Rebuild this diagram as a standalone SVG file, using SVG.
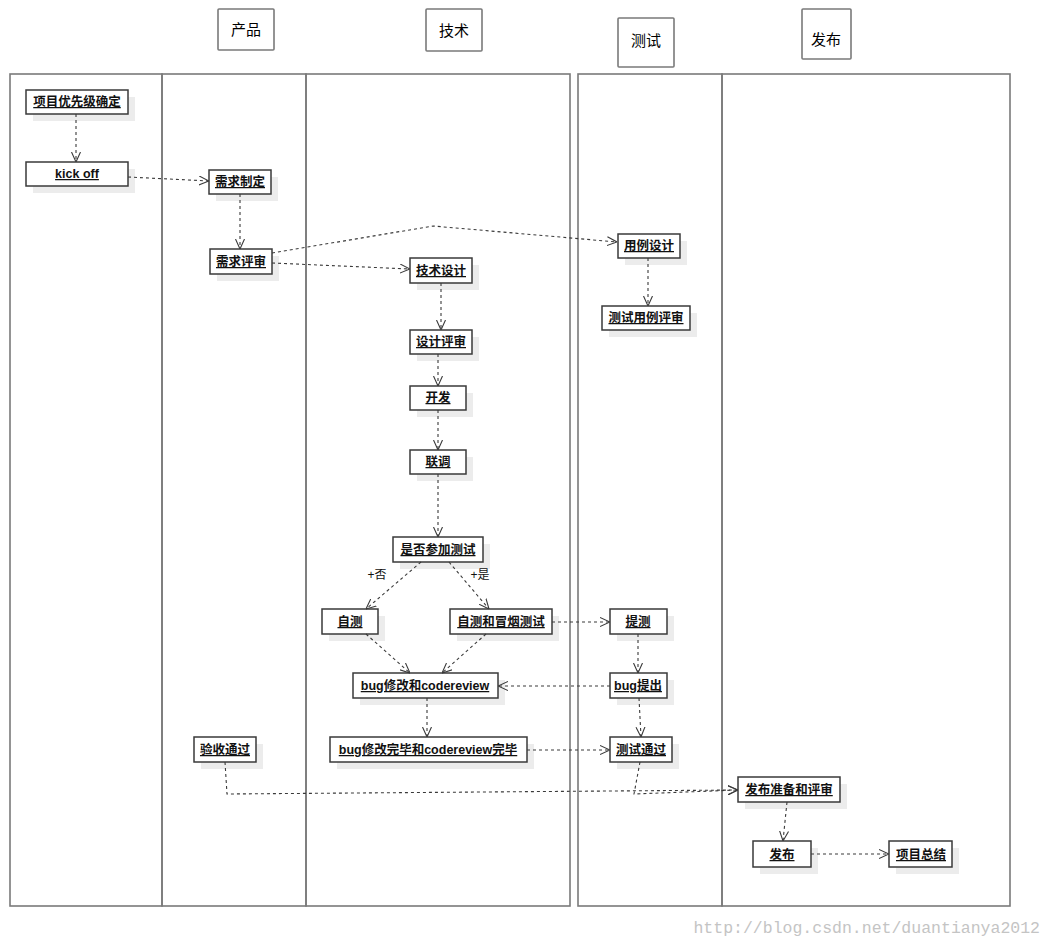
<svg xmlns="http://www.w3.org/2000/svg" width="1050" height="946" viewBox="0 0 1050 946">
<style>
.lane{fill:none;stroke:#7a7a7a;stroke-width:1.6}
.hdr{fill:#fff;stroke:#7a7a7a;stroke-width:1.6}
.ht{font-family:"Noto Sans CJK SC",sans-serif;font-size:15px;fill:#000;text-anchor:middle}
.sh{fill:#ececec}
.bx{fill:#fff;stroke:#3a3a3a;stroke-width:1.5}
.nt{font-family:"Liberation Sans","Noto Sans CJK SC",sans-serif;font-size:12.5px;font-weight:bold;fill:#111;text-anchor:middle;text-decoration:underline}
.c{fill:none;stroke:#3a3a3a;stroke-width:1.1;stroke-dasharray:3,3;marker-end:url(#ah)}
.lb{font-family:"Liberation Sans","Noto Sans CJK SC",sans-serif;font-size:12px;fill:#111;text-anchor:middle}
</style>
<defs>
<marker id="ah" viewBox="0 0 10 10" refX="10" refY="5" markerWidth="10" markerHeight="10" markerUnits="userSpaceOnUse" orient="auto">
<path d="M0,0.5 L10,5 L0,9.5" fill="none" stroke="#3a3a3a" stroke-width="1.1"/>
</marker>
</defs>
<rect width="1050" height="946" fill="#fff"/>
<g id="lanes">
<rect class="lane" x="10" y="74" width="152" height="832"/>
<rect class="lane" x="162" y="74" width="144" height="832"/>
<rect class="lane" x="306" y="74" width="264" height="832"/>
<rect class="lane" x="578" y="74" width="144" height="832"/>
<rect class="lane" x="722" y="74" width="288" height="832"/>
</g>
<g id="headers">
<g id="h-product"><rect class="hdr" x="218" y="9" width="56" height="41" rx="1"/><text class="ht" x="246" y="35">产品</text></g>
<g id="h-tech"><rect class="hdr" x="426" y="9" width="56" height="42" rx="1"/><text class="ht" x="454" y="36">技术</text></g>
<g id="h-test"><rect class="hdr" x="618" y="18" width="56" height="49" rx="1"/><text class="ht" x="646" y="46">测试</text></g>
<g id="h-release"><rect class="hdr" x="802" y="9" width="49" height="50" rx="1"/><text class="ht" x="826" y="45">发布</text></g>
</g>
<g id="n1"><rect class="sh" x="33" y="97" width="102" height="24"/><rect class="bx" x="26" y="90" width="102" height="24"/><text class="nt" x="77" y="106">项目优先级确定</text></g>
<g id="n2"><rect class="sh" x="33" y="169" width="102" height="24"/><rect class="bx" x="26" y="162" width="102" height="24"/><text class="nt" x="77" y="178">kick off</text></g>
<g id="n3"><rect class="sh" x="216" y="177" width="62" height="24"/><rect class="bx" x="209" y="170" width="62" height="24"/><text class="nt" x="240" y="186">需求制定</text></g>
<g id="n4"><rect class="sh" x="217" y="256" width="62" height="25"/><rect class="bx" x="210" y="249" width="62" height="25"/><text class="nt" x="241" y="266">需求评审</text></g>
<g id="n5"><rect class="sh" x="417" y="265" width="62" height="25"/><rect class="bx" x="410" y="258" width="62" height="25"/><text class="nt" x="441" y="275">技术设计</text></g>
<g id="n6"><rect class="sh" x="625" y="241" width="62" height="24"/><rect class="bx" x="618" y="234" width="62" height="24"/><text class="nt" x="649" y="250">用例设计</text></g>
<g id="n7"><rect class="sh" x="609" y="313" width="88" height="24"/><rect class="bx" x="602" y="306" width="88" height="24"/><text class="nt" x="646" y="322">测试用例评审</text></g>
<g id="n8"><rect class="sh" x="417" y="337" width="62" height="24"/><rect class="bx" x="410" y="330" width="62" height="24"/><text class="nt" x="441" y="346">设计评审</text></g>
<g id="n9"><rect class="sh" x="417" y="393" width="56" height="24"/><rect class="bx" x="410" y="386" width="56" height="24"/><text class="nt" x="438" y="402">开发</text></g>
<g id="n10"><rect class="sh" x="417" y="457" width="56" height="24"/><rect class="bx" x="410" y="450" width="56" height="24"/><text class="nt" x="438" y="466">联调</text></g>
<g id="n11"><rect class="sh" x="400" y="544" width="90" height="25"/><rect class="bx" x="393" y="537" width="90" height="25"/><text class="nt" x="438" y="554">是否参加测试</text></g>
<g id="n12"><rect class="sh" x="329" y="616" width="56" height="25"/><rect class="bx" x="322" y="609" width="56" height="25"/><text class="nt" x="350" y="626">自测</text></g>
<g id="n13"><rect class="sh" x="457" y="616" width="102" height="25"/><rect class="bx" x="450" y="609" width="102" height="25"/><text class="nt" x="501" y="626">自测和冒烟测试</text></g>
<g id="n14"><rect class="sh" x="360" y="680" width="145" height="25"/><rect class="bx" x="353" y="673" width="145" height="25"/><text class="nt" x="425" y="690">bug修改和codereview</text></g>
<g id="n15"><rect class="sh" x="617" y="616" width="57" height="25"/><rect class="bx" x="610" y="609" width="57" height="25"/><text class="nt" x="638" y="626">提测</text></g>
<g id="n16"><rect class="sh" x="617" y="680" width="57" height="25"/><rect class="bx" x="610" y="673" width="57" height="25"/><text class="nt" x="638" y="690">bug提出</text></g>
<g id="n17"><rect class="sh" x="617" y="744" width="62" height="25"/><rect class="bx" x="610" y="737" width="62" height="25"/><text class="nt" x="641" y="754">测试通过</text></g>
<g id="n18"><rect class="sh" x="201" y="744" width="62" height="25"/><rect class="bx" x="194" y="737" width="62" height="25"/><text class="nt" x="225" y="754">验收通过</text></g>
<g id="n19"><rect class="sh" x="337" y="744" width="197" height="25"/><rect class="bx" x="330" y="737" width="197" height="25"/><text class="nt" x="428" y="754">bug修改完毕和codereview完毕</text></g>
<g id="n20"><rect class="sh" x="745" y="784" width="102" height="25"/><rect class="bx" x="738" y="777" width="102" height="25"/><text class="nt" x="789" y="794">发布准备和评审</text></g>
<g id="n21"><rect class="sh" x="760" y="848" width="58" height="26"/><rect class="bx" x="753" y="841" width="58" height="26"/><text class="nt" x="782" y="859">发布</text></g>
<g id="n22"><rect class="sh" x="896" y="848" width="63" height="26"/><rect class="bx" x="889" y="841" width="63" height="26"/><text class="nt" x="921" y="859">项目总结</text></g>
<g id="connectors">
<path class="c" d="M76,114 L76,162"/>
<path class="c" d="M128,177 L209,181"/>
<path class="c" d="M240,194 L240,249"/>
<path class="c" d="M272,253 L433,226 L617,242"/>
<path class="c" d="M272,263 L410,269"/>
<path class="c" d="M648,258 L648,306"/>
<path class="c" d="M441,283 L441,330"/>
<path class="c" d="M438,354 L438,386"/>
<path class="c" d="M438,410 L438,450"/>
<path class="c" d="M438,474 L438,537"/>
<path class="c" d="M421,562 L366,609"/>
<path class="c" d="M449,562 L489,609"/>
<path class="c" d="M366,634 L410,673"/>
<path class="c" d="M486,634 L442,673"/>
<path class="c" d="M552,622 L610,622"/>
<path class="c" d="M610,686 L498,686"/>
<path class="c" d="M638,634 L638,673"/>
<path class="c" d="M427,698 L427,737"/>
<path class="c" d="M527,750 L610,750"/>
<path class="c" d="M639,698 L641,737"/>
<path class="c" d="M225,762 L227,794 L738,790"/>
<path class="c" d="M640,762 L634,794 L738,790"/>
<path class="c" d="M787,802 L783,841"/>
<path class="c" d="M811,854 L889,854"/>
<text class="lb" x="377" y="579">+否</text>
<text class="lb" x="480" y="579">+是</text>
</g>
<text x="1040" y="933" font-family="Liberation Mono,monospace" font-size="16.5px" fill="#c4c4c4" text-anchor="end">http://blog.csdn.net/duantianya2012</text>
</svg>
